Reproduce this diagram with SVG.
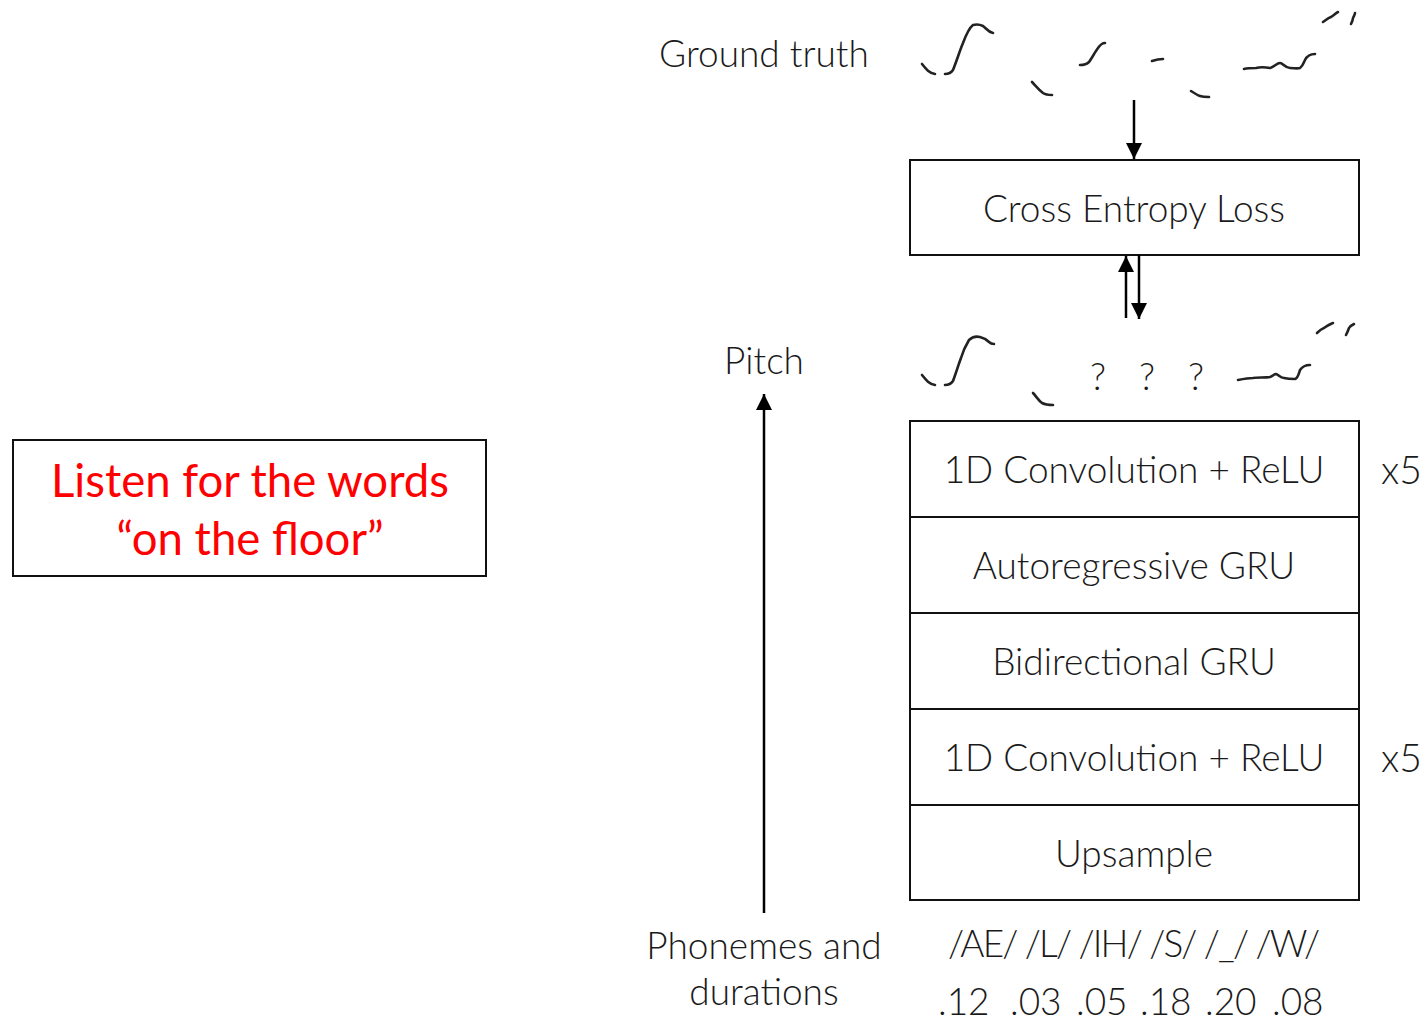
<svg xmlns="http://www.w3.org/2000/svg" width="1427" height="1021" viewBox="0 0 1427 1021">
  <defs>
    <style>
      .lbl { font-family: Lato, "Liberation Sans", sans-serif; font-weight: 300; font-size: 37px; fill: #1a1a1a; text-anchor: middle; }
      .lft { text-anchor: start; }
      .mult { font-size: 39px; }
      .box { fill: #ffffff; stroke: #111; stroke-width: 2; }
      .note { font-family: Lato, "Liberation Sans", sans-serif; font-weight: 400; font-size: 45.5px; fill: #ff0000; text-anchor: middle; }
      .curve { fill: none; stroke: #222; stroke-width: 2.6; stroke-linecap: round; stroke-linejoin: round; }
      .wire { fill: none; stroke: #000; stroke-width: 2.5; }
    </style>
    <marker id="head" viewBox="0 0 10 10" refX="10" refY="5" markerWidth="6.5" markerHeight="6.5" markerUnits="strokeWidth" orient="auto">
      <path d="M0,0 L10,5 L0,10 Z" fill="#000"/>
    </marker>
  </defs>

  <rect width="1427" height="1021" fill="#ffffff"/>

  <!-- side note -->
  <g id="note">
    <rect class="box" x="13" y="440" width="473" height="136"/>
    <text class="note" x="250" y="497">Listen for the words</text>
    <text class="note" x="250" y="555">“on the floor”</text>
  </g>

  <!-- labels on the left of the model -->
  <g id="ground-truth-label"><text class="lbl" x="764" y="67">Ground truth</text></g>
  <g id="pitch-label"><text class="lbl" x="764" y="374">Pitch</text></g>
  <g id="inputs-label">
    <text class="lbl" x="764" y="959">Phonemes and</text>
    <text class="lbl" x="764" y="1005">durations</text>
  </g>

  <!-- reference pitch contour -->
  <g id="ground-truth-contour">
    <path class="curve" d="M922,64 C926,69 929,73 935,74"/>
    <path class="curve" d="M945,74 C949,74 951,73 953,70 C957,60 960,50 963,43 C966,35 969,28 973,25 C977,24 981,25 983,26 C986,28 988,32 993,33"/>
    <path class="curve" d="M1032,82 C1035,85 1038,89 1043,93 C1046,95 1049,95 1052,95"/>
    <path class="curve" d="M1080,65 C1084,65 1087,64 1089,62 C1092,58 1095,52 1098,48 C1100,45 1103,43 1105,43"/>
    <path class="curve" d="M1152,61 C1155,60 1158,59 1163,59"/>
    <path class="curve" d="M1191,91 C1194,93 1197,95 1200,96 C1203,97 1206,97 1209,97"/>
    <path class="curve" d="M1244,69 C1248,68 1252,68 1256,68 C1260,67 1264,67 1270,68 C1274,67 1277,63 1280,63 C1283,63 1285,68 1290,68 C1294,68 1297,69 1300,68 C1303,66 1304,62 1305,60 C1307,56 1311,54 1315,54"/>
    <path class="curve" d="M1323,22 C1326,20 1328,18 1331,17 C1334,15 1336,13 1338,12"/>
    <path class="curve" d="M1351,24 C1352,22 1353,20 1353,18 C1354,16 1355,14 1355,13"/>
  </g>

  <!-- loss -->
  <g id="loss">
    <rect class="box" x="910" y="160" width="449" height="95"/>
    <text class="lbl" x="1134" y="222">Cross Entropy Loss</text>
  </g>

  <!-- predicted pitch contour with gaps -->
  <g id="predicted-contour">
    <path class="curve" d="M922,375 C926,380 929,384 935,385"/>
    <path class="curve" d="M945,385 C949,385 951,384 953,381 C956,373 958,366 961,358 C963,351 966,345 969,340 C972,337 976,336 980,337 C984,338 987,340 989,342 C991,344 993,344 994,344"/>
    <path class="curve" d="M1033,393 C1036,396 1038,400 1042,403 C1046,405 1049,405 1053,405"/>
    <path class="curve" d="M1238,380 C1243,379 1248,378 1253,378 C1258,377 1265,378 1270,377 C1273,376 1274,374 1276,374 C1279,375 1280,378 1284,378 C1288,379 1292,379 1295,379 C1298,378 1299,373 1300,370 C1302,367 1306,365 1310,365"/>
    <path class="curve" d="M1317,333 C1319,331 1321,329 1324,328 C1327,326 1330,324 1333,323"/>
    <path class="curve" d="M1346,335 C1347,333 1348,331 1349,328 C1350,326 1352,325 1354,324"/>
    <text class="lbl" x="1098" y="390">?</text>
    <text class="lbl" x="1147" y="390">?</text>
    <text class="lbl" x="1196" y="390">?</text>
  </g>

  <!-- model layers, bottom to top -->
  <g id="conv-out">
    <rect class="box" x="910" y="421" width="449" height="96"/>
    <text class="lbl" x="1134" y="483">1D Convolution + ReLU</text>
    <text class="lbl lft mult" x="1381" y="484">x5</text>
  </g>
  <g id="ar-gru">
    <rect class="box" x="910" y="517" width="449" height="96"/>
    <text class="lbl" x="1134" y="579">Autoregressive GRU</text>
  </g>
  <g id="bi-gru">
    <rect class="box" x="910" y="613" width="449" height="96"/>
    <text class="lbl" x="1134" y="675">Bidirectional GRU</text>
  </g>
  <g id="conv-in">
    <rect class="box" x="910" y="709" width="449" height="96"/>
    <text class="lbl" x="1134" y="771">1D Convolution + ReLU</text>
    <text class="lbl lft mult" x="1381" y="772">x5</text>
  </g>
  <g id="upsample">
    <rect class="box" x="910" y="805" width="449" height="95"/>
    <text class="lbl" x="1134" y="867">Upsample</text>
  </g>

  <!-- input sequence -->
  <g id="inputs">
    <text class="lbl lft" x="948" y="957" textLength="372" lengthAdjust="spacing">/AE/ /L/ /IH/ /S/ /_/ /W/</text>
    <text class="lbl lft" y="1015"><tspan x="938">.12</tspan> <tspan x="1010">.03</tspan> <tspan x="1076">.05</tspan> <tspan x="1140">.18</tspan> <tspan x="1205">.20</tspan> <tspan x="1272">.08</tspan></text>
  </g>

  <!-- connectors -->
  <g id="connectors">
    <line class="wire" x1="1134" y1="100" x2="1134" y2="159" marker-end="url(#head)"/>
    <line class="wire" x1="1126" y1="318" x2="1126" y2="256" marker-end="url(#head)"/>
    <line class="wire" x1="1139" y1="255" x2="1139" y2="319" marker-end="url(#head)"/>
    <line class="wire" x1="764" y1="913" x2="764" y2="394" marker-end="url(#head)"/>
  </g>
</svg>
